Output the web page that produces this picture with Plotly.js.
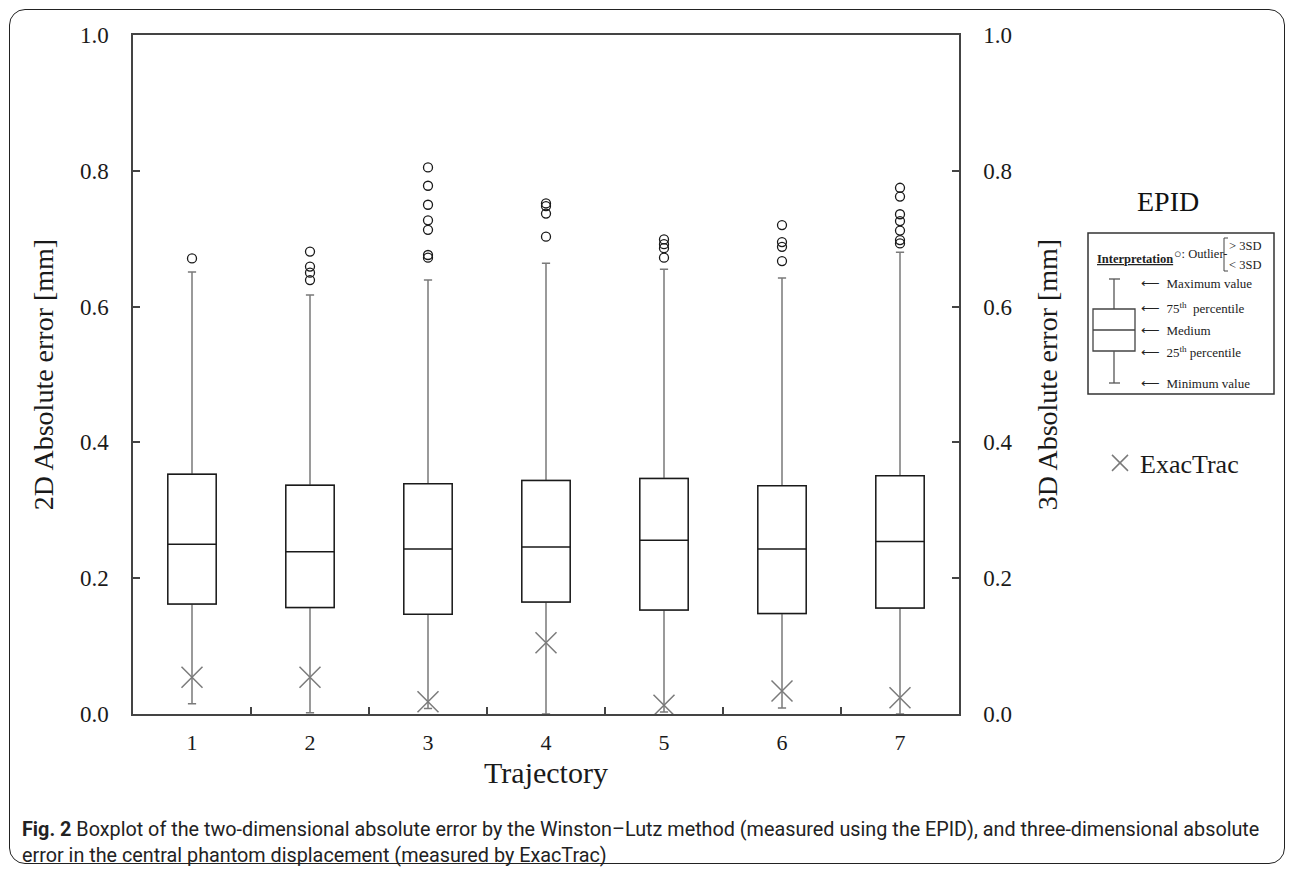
<!DOCTYPE html>
<html>
<head>
<meta charset="utf-8">
<script src="https://cdn.plot.ly/plotly-3.0.1.min.js"></script>
<style>
  html, body { margin: 0; padding: 0; background: #fff; }
  #wrap { position: relative; width: 1296px; height: 876px; }
  #chart { width: 1296px; height: 876px; }
  #frame { position: absolute; left: 9px; top: 9px; width: 1276px; height: 855px;
           border: 1.5px solid #222; border-radius: 16px; pointer-events: none; box-sizing: border-box; }
</style>
</head>
<body>
<div id="wrap">
  <div id="chart"></div>
  <div id="frame"></div>
</div>
<script>
// ---- data ----
const trajectories = ['1', '2', '3', '4', '5', '6', '7'];
const whiskerMin = [0.015, 0.002, 0.008, 0.000, 0.003, 0.009, 0.000];
const q1Values    = [0.162, 0.157, 0.147, 0.165, 0.153, 0.148, 0.156];
const medians     = [0.250, 0.239, 0.243, 0.246, 0.256, 0.243, 0.254];
const q3Values    = [0.353, 0.337, 0.339, 0.344, 0.347, 0.336, 0.351];
const whiskerMax  = [0.651, 0.617, 0.639, 0.664, 0.655, 0.642, 0.680];
const outliers = [
  [0.671],
  [0.681, 0.659, 0.650, 0.639],
  [0.805, 0.778, 0.750, 0.727, 0.713, 0.676, 0.672],
  [0.752, 0.748, 0.737, 0.703],
  [0.699, 0.692, 0.686, 0.672],
  [0.720, 0.695, 0.688, 0.667],
  [0.775, 0.762, 0.736, 0.726, 0.712, 0.698, 0.693]
];
const exacTrac = [0.054, 0.054, 0.018, 0.105, 0.013, 0.034, 0.024];

// outlier points flattened from the lists above
const outX = [], outY = [];
outliers.forEach((list, i) => list.forEach(v => { outX.push(trajectories[i]); outY.push(v); }));

const SERIF = 'Liberation Serif, Times New Roman, serif';
const INK = '#1a1a1a';
const GRAYLINE = '#7a7a7a';

const traces = [
  { // whiskers (gray)
    type: 'box', x: trajectories, q1: q1Values, median: medians, q3: q3Values,
    lowerfence: whiskerMin, upperfence: whiskerMax,
    boxpoints: false, width: 0.41, whiskerwidth: 0.17,
    fillcolor: '#ffffff', line: { color: GRAYLINE, width: 1.5 },
    showlegend: false, hoverinfo: 'skip'
  },
  { // box body (black), no whiskers
    type: 'box', x: trajectories, q1: q1Values, median: medians, q3: q3Values,
    lowerfence: q1Values, upperfence: q3Values,
    boxpoints: false, width: 0.41, whiskerwidth: 0,
    fillcolor: '#ffffff', line: { color: INK, width: 1.5 },
    showlegend: false, hoverinfo: 'skip'
  },
  { // outliers
    type: 'scatter', mode: 'markers', x: outX, y: outY,
    marker: { symbol: 'circle-open', size: 9, color: INK, line: { width: 1.3, color: INK } },
    showlegend: false
  },
  { // ExacTrac
    type: 'scatter', mode: 'markers', x: trajectories, y: exacTrac, name: 'ExacTrac',
    marker: { symbol: 'x-thin-open', size: 21, color: GRAYLINE, line: { width: 1.5, color: GRAYLINE } },
    showlegend: true
  },
  { // invisible trace bound to yaxis2 so the right axis is drawn
    type: 'scatter', x: [trajectories[0]], y: [0], yaxis: 'y2', mode: 'markers',
    marker: { opacity: 0 }, showlegend: false, hoverinfo: 'skip'
  }
];

// pixel -> paper helpers for the interpretation key (decoration only)
const PX0 = 133, PW = 826, PY0 = 714, PH = 679;
const px = x => (x - PX0) / PW;
const py = y => (PY0 - y) / PH;

const shp = (type, x0, y0, x1, y1, color, width) => ({
  type: type, xref: 'paper', yref: 'paper',
  x0: px(x0), x1: px(x1), y0: py(y0), y1: py(y1),
  line: { color: color, width: width }
});

const keyShapes = [
  shp('rect', 1088, 233, 1274, 394, '#333', 1.5),
  // schematic box
  shp('line', 1114, 279, 1114, 309, '#555', 1.3),
  shp('line', 1109, 279, 1120, 279, '#555', 1.3),
  shp('rect', 1093, 309, 1135, 351, '#444', 1.3),
  shp('line', 1093, 330, 1135, 330, '#444', 1.3),
  shp('line', 1114, 351, 1114, 383, '#555', 1.3),
  shp('line', 1109, 383, 1120, 383, '#555', 1.3),
  // bracket
  shp('line', 1224, 238, 1224, 271, '#444', 1),
  shp('line', 1224, 238, 1228, 238, '#444', 1),
  shp('line', 1224, 271, 1228, 271, '#444', 1)
];

const keyFont = { family: SERIF, size: 13, color: '#222' };
const keyText = (x, y, text, extra) => Object.assign({
  xref: 'paper', yref: 'paper', x: px(x), y: py(y), text: text, showarrow: false,
  xanchor: 'left', yanchor: 'middle', font: keyFont
}, extra || {});

const annotations = [
  keyText(1168, 201, 'EPID', { xanchor: 'center', font: { family: SERIF, size: 28, color: '#111' } }),
  keyText(1095, 259, '<b><u>Interpretation</u></b>', { font: { family: SERIF, size: 12.5, color: '#222' } }),
  keyText(1172, 254, '○: Outlier-', { font: { family: SERIF, size: 12.5, color: '#222' } }),
  keyText(1227, 246, '> 3SD', { font: { family: SERIF, size: 12.5, color: '#222' } }),
  keyText(1227, 265, '< 3SD', { font: { family: SERIF, size: 12.5, color: '#222' } }),
  keyText(1139, 283, '⟵  Maximum value'),
  keyText(1139, 308, '⟵  75<sup>th</sup>  percentile'),
  keyText(1139, 330, '⟵  Medium'),
  keyText(1139, 352, '⟵  25<sup>th</sup> percentile'),
  keyText(1139, 384, '⟵  Minimum value'),
  // caption
  { xref: 'paper', yref: 'paper', x: px(20), y: py(829), xanchor: 'left', yanchor: 'middle', showarrow: false,
    text: '<b>Fig. 2</b> Boxplot of the two-dimensional absolute error by the Winston–Lutz method (measured using the EPID), and three-dimensional absolute',
    font: { family: 'Roboto, Open Sans, sans-serif', size: 19.8, color: '#222' } },
  { xref: 'paper', yref: 'paper', x: px(20), y: py(855), xanchor: 'left', yanchor: 'middle', showarrow: false,
    text: 'error in the central phantom displacement (measured by ExacTrac)',
    font: { family: 'Roboto, Open Sans, sans-serif', size: 19.8, color: '#222' } }
];

const layout = {
  width: 1296, height: 876,
  margin: { l: 133, r: 337, t: 35, b: 162, pad: 0 },
  paper_bgcolor: '#ffffff', plot_bgcolor: '#ffffff',
  font: { family: SERIF, color: INK },
  boxmode: 'overlay',
  xaxis: {
    type: 'category', categoryorder: 'array', categoryarray: trajectories,
    range: [-0.5, 6.5], tickson: 'boundaries', ticks: 'inside', ticklen: 7, tickwidth: 1.5, tickcolor: '#444',
    showline: true, linecolor: '#444', linewidth: 1.5, mirror: true, showgrid: false, zeroline: false,
    tickfont: { family: SERIF, size: 22, color: INK }, ticklabelstandoff: 8,
    title: { text: 'Trajectory', font: { family: SERIF, size: 30, color: INK }, standoff: 8 }
  },
  yaxis: {
    range: [0, 1], tickvals: [0, 0.2, 0.4, 0.6, 0.8, 1.0], tickformat: '.1f',
    ticks: 'inside', ticklen: 7, tickwidth: 1.5, tickcolor: '#444',
    showline: true, linecolor: '#444', linewidth: 1.5, showgrid: false, zeroline: false,
    tickfont: { family: SERIF, size: 23, color: INK }, ticklabelstandoff: 18,
    title: { text: '2D Absolute error [mm]', font: { family: SERIF, size: 28, color: INK }, standoff: 18 }
  },
  yaxis2: {
    overlaying: 'y', side: 'right', range: [0, 1], tickvals: [0, 0.2, 0.4, 0.6, 0.8, 1.0], tickformat: '.1f',
    ticks: 'inside', ticklen: 7, tickwidth: 1.5, tickcolor: '#444',
    showline: true, linecolor: '#444', linewidth: 1.5, showgrid: false, zeroline: false,
    tickfont: { family: SERIF, size: 23, color: INK }, ticklabelstandoff: 18,
    title: { text: '3D Absolute error [mm]', font: { family: SERIF, size: 28, color: INK }, standoff: 26 }
  },
  showlegend: true,
  legend: {
    x: px(1100), y: py(463), xanchor: 'left', yanchor: 'middle',
    font: { family: SERIF, size: 26, color: INK }, bgcolor: 'rgba(0,0,0,0)', itemwidth: 30,
    tracegroupgap: 0
  },
  shapes: keyShapes,
  annotations: annotations
};

Plotly.newPlot('chart', traces, layout, { displayModeBar: false, responsive: false });
</script>
</body>
</html>
